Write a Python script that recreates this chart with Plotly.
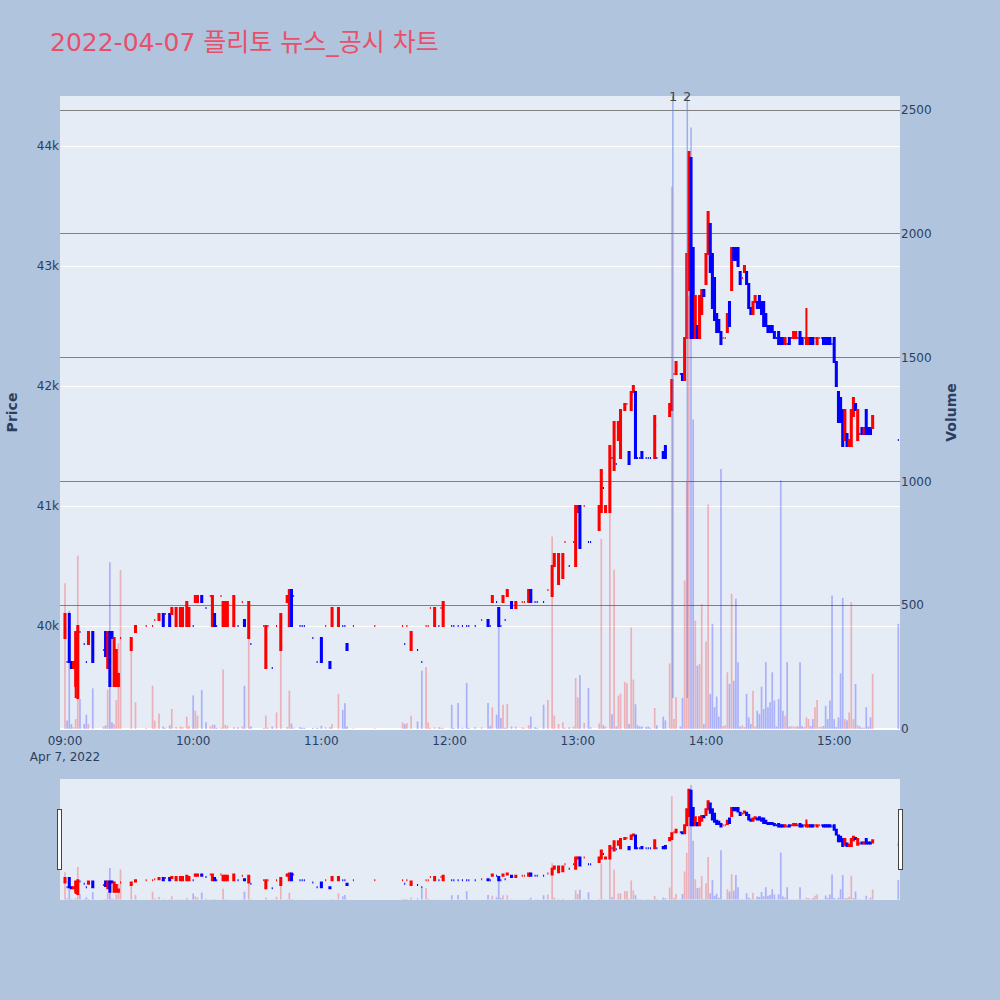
import plotly.graph_objects as go
from plotly.subplots import make_subplots

DATE = "2022-04-07"
TITLE = "2022-04-07 플리토 뉴스_공시 차트"

times = [
    "09:00","09:01","09:02","09:03","09:04","09:05","09:06","09:07","09:09","09:10","09:11","09:13","09:18","09:19","09:20","09:21","09:22","09:23","09:24","09:25","09:26","09:31","09:33","09:38","09:41","09:42","09:44","09:46","09:47","09:49","09:50","09:52","09:54","09:55","09:57","09:58",
    "10:00","10:01","10:02","10:04","10:06","10:08","10:09","10:10","10:11","10:13","10:14","10:15","10:16","10:19","10:21","10:23","10:24","10:26","10:27","10:33","10:34","10:35","10:37","10:39","10:41","10:44","10:45","10:46","10:47","10:50","10:51","10:52","10:56","10:58",
    "11:00","11:02","11:04","11:05","11:08","11:10","11:11","11:12","11:15","11:25","11:38","11:39","11:40","11:42","11:45","11:47","11:49","11:50","11:51","11:53","11:55","11:56","11:57",
    "12:01","12:02","12:04","12:06","12:08","12:09","12:12","12:15","12:18","12:19","12:20","12:22","12:23","12:24","12:25","12:26","12:27","12:29","12:31","12:34","12:35","12:37","12:38","12:40","12:41","12:44","12:46","12:48","12:49","12:51","12:53","12:54","12:56","12:58","12:59",
    "13:00","13:01","13:03","13:05","13:06","13:10","13:11","13:12","13:13","13:15","13:16","13:17","13:18","13:19","13:20","13:22","13:23","13:24","13:25","13:26","13:27","13:28","13:29","13:30","13:32","13:33","13:34","13:36","13:37","13:40","13:41","13:43","13:44","13:45","13:46","13:48","13:49","13:50","13:51","13:52","13:53","13:54","13:55","13:56","13:57","13:58","13:59",
    "14:00","14:01","14:02","14:03","14:04","14:05","14:06","14:07","14:08","14:09","14:10","14:11","14:12","14:13","14:14","14:15","14:16","14:17","14:18","14:19","14:20","14:21","14:22","14:23","14:24","14:25","14:26","14:27","14:28","14:29","14:30","14:31","14:32","14:33","14:34","14:35","14:36","14:37","14:38","14:39","14:40","14:41","14:42","14:43","14:44","14:45","14:46","14:47","14:48","14:49","14:50","14:51","14:52","14:53","14:54","14:55","14:56","14:57","14:58","14:59",
    "15:00","15:01","15:02","15:03","15:04","15:05","15:06","15:07","15:08","15:09","15:10","15:11","15:12","15:13","15:14","15:15","15:16","15:17","15:18","15:30",
]

opens = [
    39900,39700,40100,39700,39650,39500,39400,39950,39850,39700,39850,39950,39800,39950,39650,39950,39950,39500,39500,39500,39900,39800,39950,40000,40000,40050,40050,40100,40100,40100,40100,40000,40000,40000,40000,40000,
    40000,40200,40200,40250,40150,40250,40000,40100,40000,40250,40000,40000,40000,40000,40000,40200,40050,39900,39850,40000,39650,40000,39650,40000,39800,40200,40000,40300,40250,40000,40000,40000,39900,39700,
    39900,40000,39700,40000,40000,40000,40000,39850,40000,40000,40000,39850,40000,39800,39800,39700,40000,40000,40150,40000,40000,40150,40000,
    40000,40000,40000,40000,40000,40000,40000,40050,40050,40000,40200,40200,40150,40000,40200,40050,40250,40200,40150,40200,40200,40200,40300,40200,40200,40200,40300,40250,40500,40350,40400,40700,40500,40700,40500,
    40950,41000,41000,40700,40700,40800,40950,41150,40950,40950,41400,41300,41350,41550,41400,41800,41850,41450,41800,41950,41950,41400,41400,41450,41400,41400,41400,41400,41400,41450,41500,41750,41800,42100,42100,42100,42100,42050,42400,42800,43900,43150,42400,42500,42400,42600,42800,
    42850,43100,43350,43100,42900,42600,42550,42450,42400,42400,42450,42700,42800,43150,43150,43150,42950,42900,42950,42950,42850,42650,42600,42700,42700,42750,42700,42700,42600,42500,42500,42500,42450,42400,42450,42400,42400,42350,42350,42400,42400,42400,42400,42400,42450,42400,42400,42350,42350,42400,42400,42400,42350,42400,42400,42400,42400,42400,42400,42350,
    42400,42200,41950,41900,41800,41550,41600,41500,41500,41750,41850,41550,41600,41650,41600,41800,41650,41650,41650,41550,
]

highs = [
    40100,39700,40100,39700,39700,39950,40000,39950,39850,39700,39950,39950,39800,39950,39950,39950,39950,39900,39800,39600,39900,39900,40000,40000,40000,40050,40100,40100,40100,40100,40150,40150,40150,40150,40200,40150,
    40000,40250,40250,40250,40150,40250,40250,40100,40000,40250,40200,40200,40200,40250,40000,40200,40050,40200,39850,40000,40000,40000,39650,40000,40100,40250,40300,40300,40250,40000,40000,40000,39900,39700,
    39900,40000,39700,40150,40150,40000,40000,39850,40000,40000,40000,39850,40000,39950,39800,39700,40000,40000,40150,40150,40000,40150,40200,
    40000,40000,40000,40000,40000,40000,40000,40050,40050,40000,40250,40200,40150,40000,40250,40050,40300,40200,40200,40200,40200,40300,40300,40200,40200,40200,40300,40500,40600,40600,40600,40700,40500,40700,41000,
    41000,41000,41000,40700,40700,41000,41300,41150,41000,41500,41400,41700,41350,41700,41800,41850,41850,41450,41950,42000,41950,41400,41400,41450,41400,41400,41400,41750,41400,41450,41500,41850,42050,42100,42200,42100,42100,42400,43100,43950,43900,43150,42750,42500,42750,42800,42800,
    43100,43450,43350,43100,42900,42600,42550,42450,42400,42400,42600,42700,43150,43150,43150,43150,42950,42900,43000,42950,42850,42650,42700,42750,42700,42750,42700,42700,42600,42500,42500,42500,42450,42400,42450,42400,42400,42400,42350,42400,42400,42450,42450,42400,42450,42400,42400,42650,42400,42400,42400,42400,42400,42400,42400,42400,42400,42400,42400,42350,
    42400,42200,41950,41900,41800,41800,41600,41550,41800,41900,41850,41800,41600,41650,41650,41800,41650,41650,41750,41550,
]

lows = [
    39900,39700,39700,39650,39650,39400,39400,39950,39850,39700,39850,39700,39800,39750,39650,39500,39900,39500,39500,39500,39900,39800,39950,40000,40000,40050,40050,40000,40100,40000,40100,40000,40000,40000,40000,40000,
    40000,40200,40200,40200,40150,40250,40000,40000,40000,40250,40000,40000,40000,40000,40000,40200,40000,39900,39850,40000,39650,40000,39650,40000,39800,40200,40000,40000,40250,40000,40000,40000,39900,39700,
    39700,40000,39650,40000,40000,40000,40000,39800,40000,40000,40000,39850,40000,39800,39800,39700,40000,40000,40150,40000,40000,40150,40000,
    40000,40000,40000,40000,40000,40000,40000,40050,40000,40000,40200,40200,40000,40000,40200,40050,40250,40150,40150,40200,40200,40200,40200,40200,40200,40200,40300,40250,40500,40350,40400,40700,40500,40700,40500,
    40950,40650,41000,40700,40700,40800,40950,41150,40950,40950,41400,41300,41350,41550,41400,41800,41850,41350,41800,41950,41400,41400,41400,41400,41400,41400,41400,41400,41400,41400,41400,41750,41800,42100,42100,42100,42050,42050,42400,42800,42400,42400,42400,42400,42400,42600,42750,
    42850,43100,42950,42650,42550,42450,42450,42350,42400,42400,42450,42500,42800,43050,43050,43000,42850,42900,42950,42850,42650,42600,42600,42700,42650,42650,42600,42500,42500,42450,42450,42450,42400,42400,42350,42350,42350,42350,42350,42350,42400,42400,42400,42400,42350,42350,42400,42350,42350,42350,42350,42400,42350,42400,42400,42350,42350,42350,42350,42350,
    42200,42000,41700,41700,41500,41550,41500,41500,41500,41750,41800,41550,41600,41600,41600,41600,41600,41600,41650,41550,
]

closes = [
    40100,39700,39700,39650,39700,39950,40000,39950,39850,39700,39950,39700,39800,39750,39950,39500,39900,39900,39800,39600,39900,39900,40000,40000,40000,40050,40100,40000,40100,40000,40150,40150,40150,40150,40200,40150,
    40000,40250,40250,40200,40150,40250,40250,40000,40000,40250,40200,40200,40200,40250,40000,40200,40000,40200,39850,40000,40000,40000,39650,40000,40100,40250,40300,40000,40250,40000,40000,40000,39900,39700,
    39700,40000,39650,40150,40150,40000,40000,39800,40000,40000,40000,39850,40000,39950,39800,39700,40000,40000,40150,40150,40000,40150,40200,
    40000,40000,40000,40000,40000,40000,40000,40050,40000,40000,40250,40200,40000,40000,40250,40050,40300,40150,40200,40200,40200,40300,40200,40200,40200,40200,40300,40500,40600,40600,40600,40700,40500,40700,41000,
    41000,40650,41000,40700,40700,41000,41300,41150,41000,41500,41400,41700,41350,41700,41800,41850,41850,41350,41950,42000,41400,41400,41400,41400,41400,41400,41400,41750,41400,41400,41400,41850,42050,42100,42200,42100,42050,42400,43100,43950,42400,42400,42750,42400,42750,42800,42750,
    43100,43450,42950,42650,42550,42450,42450,42350,42400,42400,42600,42500,43150,43050,43050,43000,42850,42900,43000,42850,42650,42600,42700,42750,42650,42650,42600,42500,42500,42450,42450,42450,42400,42400,42350,42350,42350,42400,42350,42350,42400,42450,42450,42400,42350,42350,42400,42400,42400,42350,42350,42400,42400,42400,42400,42350,42350,42350,42350,42350,
    42200,42000,41700,41700,41500,41800,41500,41550,41800,41900,41800,41800,41600,41600,41650,41600,41600,41600,41750,41550,
]

volumes = [
    589,34,478,20,7,40,700,121,20,58,20,164,10,15,159,674,27,20,117,346,643,330,108,5,175,34,63,10,5,15,81,8,10,8,50,12,
    136,74,54,158,27,10,17,17,5,5,240,17,13,7,7,10,175,380,10,5,54,5,10,67,360,8,155,22,5,7,5,5,4,5,
    13,7,7,20,142,77,104,10,3,3,27,20,23,54,30,236,250,27,5,7,7,5,4,
    98,4,105,5,186,5,7,7,105,13,88,58,472,44,98,5,101,10,10,7,5,15,50,7,5,98,117,778,54,20,27,5,7,10,206,
    128,218,25,166,7,22,768,15,10,900,60,643,10,135,143,190,185,20,410,200,100,15,10,10,8,10,5,85,15,50,35,265,2191,40,128,10,126,600,1000,1750,2430,1250,438,256,263,505,20,
    353,907,141,425,88,131,50,1050,12,15,229,182,546,195,526,270,10,15,8,142,47,20,155,10,74,61,171,81,270,88,108,229,115,10,121,1004,74,54,270,10,12,10,10,10,270,12,8,47,40,12,40,88,117,8,10,12,94,40,115,539,
    40,8,47,225,530,40,35,67,512,40,182,15,10,5,5,88,10,47,222,425,
]

news_times = ["13:44:30", "13:51:15"]
news_labels = ["1", "2"]

n = len(times)
assert all(len(a) == n for a in (opens, highs, lows, closes, volumes)), [len(a) for a in (times, opens, highs, lows, closes, volumes)]

x = [f"{DATE} {t}" for t in times]

# volume colour follows the candle direction (plotly's own rule for doji candles)
vol_colors = []
prev_close = None
rising = True
for o, c in zip(opens, closes):
    if c > o:
        rising = True
    elif c < o:
        rising = False
    elif prev_close is not None and c != prev_close:
        rising = c > prev_close
    prev_close = c
    vol_colors.append("rgba(255,0,0,0.25)" if rising else "rgba(0,0,255,0.25)")

PRICE_RANGE = [39142, 44417]
VOL_RANGE = [0, 2557]

fig = make_subplots(specs=[[{"secondary_y": True}]])

fig.add_trace(
    go.Candlestick(
        x=x, open=opens, high=highs, low=lows, close=closes,
        increasing=dict(line=dict(color="#FF0000"), fillcolor="#FF0000"),
        decreasing=dict(line=dict(color="#0000FF"), fillcolor="#0000FF"),
        name="Price", showlegend=False,
    ),
    secondary_y=False,
)

fig.add_trace(
    go.Bar(x=x, y=volumes, marker=dict(color=vol_colors, line=dict(width=0)),
           name="Volume", showlegend=False),
    secondary_y=True,
)

font_family = "DejaVu Sans, Noto Sans CJK KR, sans-serif"

for t, lab in zip(news_times, news_labels):
    fig.add_shape(type="line", xref="x", yref="y",
                  x0=f"{DATE} {t}", x1=f"{DATE} {t}",
                  y0=min(lows), y1=PRICE_RANGE[1],
                  line=dict(color="rgba(90,130,230,0.55)", width=1.5))
    fig.add_annotation(x=f"{DATE} {t}", xref="x", y=1.0, yref="paper",
                       text=lab, showarrow=False, yanchor="middle",
                       font=dict(size=13, color="#444444", family=font_family))

fig.update_layout(
    width=1000, height=1000,
    paper_bgcolor="lightsteelblue",
    plot_bgcolor="#E5ECF6",
    font=dict(family=font_family, color="#2a3f5f"),
    title=dict(text=TITLE, x=0.05, xanchor="left", y=0.958, yanchor="middle",
               font=dict(size=25, color="rgb(232,80,105)", family=font_family)),
    margin=dict(l=60, r=100, t=96, b=100),
    showlegend=False,
    bargap=0.2,
)

fig.update_xaxes(
    type="date",
    domain=[0, 1],
    range=[f"{DATE} 08:57:40", f"{DATE} 15:30:48"],
    rangeslider=dict(visible=True, bgcolor="#E5ECF6", thickness=0.15),
    showgrid=False,
    automargin=False,
    ticks="outside", ticklen=1, tickcolor="rgba(0,0,0,0)",
)

fig.update_yaxes(title=dict(text="<b>Price</b>"), range=PRICE_RANGE, gridcolor="white",
                 automargin=False, secondary_y=False)
fig.update_yaxes(title=dict(text="<b>Volume</b>"), range=VOL_RANGE, gridcolor="gray",
                 showgrid=True, automargin=False, secondary_y=True)

fig.write_html("out.html",
               config={"displayModeBar": False},
               post_script="document.body.style.margin='0';document.body.style.overflow='hidden';")
